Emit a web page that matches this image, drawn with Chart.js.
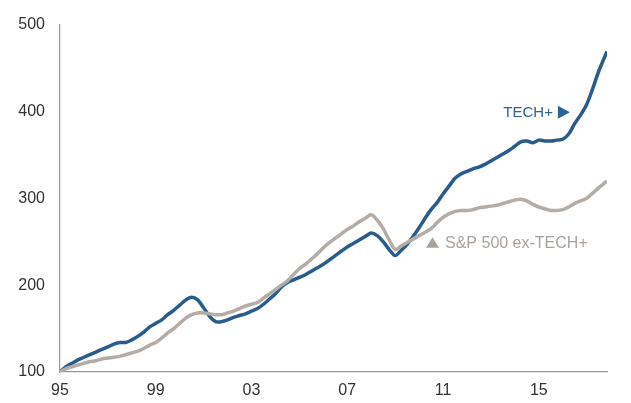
<!DOCTYPE html>
<html>
<head>
<meta charset="utf-8">
<script src="https://cdn.jsdelivr.net/npm/chart.js@4.4.0/dist/chart.umd.min.js"></script>
<style>
  html, body { margin: 0; padding: 0; background: #ffffff; }
  #wrap { width: 631px; height: 403px; position: relative; }
</style>
</head>
<body>
<div id="wrap"><canvas id="c" width="631" height="403"></canvas></div>
<script>
// Quarterly time points (year)
const years = [
  1995.00,1995.25,1995.50,1995.75,1996.00,1996.25,1996.50,1996.75,
  1997.00,1997.25,1997.50,1997.75,1998.00,1998.25,1998.50,1998.75,
  1999.00,1999.25,1999.50,1999.75,2000.00,2000.25,2000.50,2000.75,
  2001.00,2001.25,2001.50,2001.75,2002.00,2002.25,2002.50,2002.75,
  2003.00,2003.25,2003.50,2003.75,2004.00,2004.25,2004.50,2004.75,
  2005.00,2005.25,2005.50,2005.75,2006.00,2006.25,2006.50,2006.75,
  2007.00,2007.25,2007.50,2007.75,2008.00,2008.25,2008.50,2008.75,
  2009.00,2009.25,2009.50,2009.75,2010.00,2010.25,2010.50,2010.75,
  2011.00,2011.25,2011.50,2011.75,2012.00,2012.25,2012.50,2012.75,
  2013.00,2013.25,2013.50,2013.75,2014.00,2014.25,2014.50,2014.75,
  2015.00,2015.25,2015.50,2015.75,2016.00,2016.25,2016.50,2016.75,
  2017.00,2017.25,2017.50,2017.85
];

const techPlus = [
  100,106,110,114,117,120,123,126,
  129,132,134,134,137,141,146,152,
  156,160,166,171,177,183,186,183,
  174,164,158,158,160,163,165,167,
  170,173,178,184,190,198,203,206,
  209,212,216,220,224,229,234,239,
  244,248,252,256,260,257,250,241,
  234,240,247,256,266,277,287,295,
  305,314,323,328,331,334,336,339,
  343,347,351,355,360,365,366,364,
  367,366,366,367,368,374,386,396,
  408,426,446,469
];

const spExTech = [
  100,104,106,108,110,112,113,115,
  116,117,118,120,122,124,127,131,
  134,139,145,150,156,162,166,168,
  168,167,166,166,168,170,173,176,
  178,180,185,190,195,200,205,212,
  219,224,230,236,243,249,254,259,
  264,268,273,277,281,275,265,252,
  241,245,249,253,257,261,265,272,
  278,282,285,286,286,287,289,290,
  291,292,294,296,298,299,297,293,
  290,288,286,286,287,290,294,297,
  300,306,312,320
];

const xTickYears = [1995, 1999, 2003, 2007, 2011, 2015];
const xTickLabels = ['95', '99', '03', '07', '11', '15'];
const yTicks = [100, 200, 300, 400, 500];

const seriesNames = ['TECH+', 'S&P 500 ex-TECH+'];

const BLUE = '#285c8c';
const GRAY = '#b4aca6';
const FONT = '"Liberation Sans", Arial, Helvetica, sans-serif';

const toPoints = (vals) => vals.map((v, i) => ({ x: years[i], y: v }));

// Annotation labels, anchored in data coordinates
const labelPlugin = {
  id: 'seriesLabels',
  afterDatasetsDraw(chart) {
    const { ctx, scales: { x, y } } = chart;
    ctx.save();
    // TECH+ label with right-pointing triangle
    let px = x.getPixelForValue(2016.30);
    let py = y.getPixelForValue(399);
    ctx.fillStyle = '#2f6394';
    ctx.beginPath();
    ctx.moveTo(px, py);
    ctx.lineTo(px - 12, py - 6.5);
    ctx.lineTo(px - 12, py + 6.5);
    ctx.closePath();
    ctx.fill();
    ctx.font = '15px ' + FONT;
    ctx.textAlign = 'right';
    ctx.textBaseline = 'middle';
    ctx.fillText(seriesNames[0], px - 17, py + 1);

    // S&P 500 ex-TECH+ label with up-pointing triangle
    px = x.getPixelForValue(2010.29);
    py = y.getPixelForValue(243.2);
    ctx.fillStyle = '#aaa29c';
    ctx.beginPath();
    ctx.moveTo(px, py);
    ctx.lineTo(px + 13, py);
    ctx.lineTo(px + 6.5, py - 10.5);
    ctx.closePath();
    ctx.fill();
    ctx.font = '16px ' + FONT;
    ctx.textAlign = 'left';
    ctx.textBaseline = 'middle';
    ctx.fillText(seriesNames[1], px + 19, py - 4);
    ctx.restore();
  }
};

new Chart(document.getElementById('c'), {
  type: 'line',
  data: {
    datasets: [
      {
        label: seriesNames[1],
        data: toPoints(spExTech),
        borderColor: GRAY,
        borderWidth: 3.5,
        pointRadius: 0,
        tension: 0.3,
        fill: false
      },
      {
        label: seriesNames[0],
        data: toPoints(techPlus),
        borderColor: BLUE,
        borderWidth: 3.5,
        pointRadius: 0,
        tension: 0.3,
        fill: false
      }
    ]
  },
  options: {
    responsive: false,
    animation: false,
    devicePixelRatio: 1,
    layout: { padding: { top: 20, right: 24, left: 0, bottom: 0 } },
    plugins: {
      legend: { display: false },
      tooltip: { enabled: false }
    },
    scales: {
      x: {
        type: 'linear',
        min: 1995,
        max: 2017.85,
        grid: { display: false, drawTicks: false },
        border: { display: true, color: '#999999', width: 1.2 },
        afterBuildTicks: (scale) => { scale.ticks = xTickYears.map(v => ({ value: v })); },
        afterFit: (scale) => { scale.height = 31; },
        ticks: {
          autoSkip: false,
          maxRotation: 0,
          padding: 9,
          color: '#333333',
          font: { family: FONT, size: 16 },
          callback: (v) => xTickLabels[xTickYears.indexOf(v)]
        }
      },
      y: {
        type: 'linear',
        min: 100,
        max: 500,
        grid: { display: false, drawTicks: false },
        border: { display: true, color: '#999999', width: 1.2 },
        afterBuildTicks: (scale) => { scale.ticks = yTicks.map(v => ({ value: v })); },
        afterFit: (scale) => { scale.width = 60; },
        ticks: {
          padding: 15,
          color: '#333333',
          font: { family: FONT, size: 16 }
        }
      }
    }
  },
  plugins: [labelPlugin]
});
</script>
</body>
</html>
